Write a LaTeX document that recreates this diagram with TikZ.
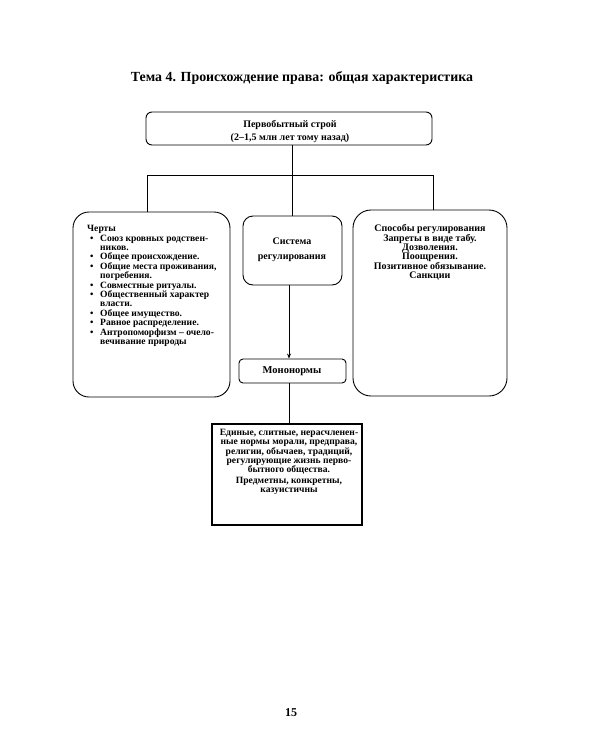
\documentclass[tikz,border=0pt]{standalone}
\usepackage{fontspec}
\setmainfont{Liberation Serif}
\usetikzlibrary{arrows.meta}
\begin{document}
\begin{tikzpicture}[x=1pt,y=-1pt,
  box/.style={draw=black,line width=0.9pt,inner sep=0pt},
  txt/.style={inner sep=0pt,font=\bfseries\fontsize{10}{9.4}\selectfont},
  conn/.style={draw=black,line width=0.9pt}]
\useasboundingbox[fill=white] (0,0) rectangle (600,750);
\node[inner sep=0pt,font=\bfseries\fontsize{13.9}{15}\selectfont] (title) at (302,78) {Тема 4. Происхождение права: общая характеристика};
% boxes
\node[box,rounded corners=6pt,minimum width=286pt,minimum height=33pt] (top) at (289,128.5) {};
\node[box,rounded corners=16pt,minimum width=157pt,minimum height=185pt] (left) at (151.5,304.5) {};
\node[box,rounded corners=10pt,minimum width=99pt,minimum height=69pt] (mid) at (292.5,250.5) {};
\node[box,rounded corners=18pt,minimum width=154pt,minimum height=186pt] (right) at (430,303) {};
\node[box,rounded corners=4pt,minimum width=107pt,minimum height=24pt] (mono) at (292.5,371) {};
\node[box,line width=1.6pt,minimum width=150pt,minimum height=101pt] (bot) at (287,474.5) {};
% texts
\node[txt,align=center,font=\bfseries\fontsize{10}{13}\selectfont] (toptxt) at (290,131.5) {Первобытный строй\\(2–1,5 млн лет тому назад)};
\node[txt,align=left,anchor=west,font=\bfseries\fontsize{9.6}{9.4}\selectfont] (lefttxt) at (87,286) {Черты\\
\makebox[13pt][l]{\hspace{3pt}•}Союз кровных родствен-\\
\hspace*{13pt}ников.\\
\makebox[13pt][l]{\hspace{3pt}•}Общее происхождение.\\
\makebox[13pt][l]{\hspace{3pt}•}Общие места проживания,\\
\hspace*{13pt}погребения.\\
\makebox[13pt][l]{\hspace{3pt}•}Совместные ритуалы.\\
\makebox[13pt][l]{\hspace{3pt}•}Общественный характер\\
\hspace*{13pt}власти.\\
\makebox[13pt][l]{\hspace{3pt}•}Общее имущество.\\
\makebox[13pt][l]{\hspace{3pt}•}Равное распределение.\\
\makebox[13pt][l]{\hspace{3pt}•}Антропоморфизм – очело-\\
\hspace*{13pt}вечивание природы};
\node[txt,align=center,font=\bfseries\fontsize{10}{15}\selectfont] (midtxt) at (292,249.5) {Система\\регулирования};
\node[txt,align=center] (righttxt) at (430,252.5) {Способы регулирования\\Запреты в виде табу.\\Дозволения.\\Поощрения.\\Позитивное обязывание.\\Санкции};
\node[txt,font=\bfseries\fontsize{10.5}{12}\selectfont] (monotxt) at (292,371) {Мононормы};
\node[txt,align=center,font=\bfseries\fontsize{9.6}{9.3}\selectfont] (bottxt) at (289,462) {Единые, слитные, нерасчленен-\\ные нормы морали, предправа,\\религии, обычаев, традиций,\\регулирующие жизнь перво-\\бытного общества.\\[1.5pt]Предметны, конкретны,\\казуистичны};
\node[inner sep=0pt,font=\bfseries\fontsize{12}{13}\selectfont] (page) at (291,713) {15};
% connectors
\coordinate (j) at (292,175);
\coordinate (jl) at (147,175);
\coordinate (jr) at (433,175);
\draw[conn] (j |- top.south) -- (j);
\draw[conn] (jl |- left.north) -- (jl) -- (jr) -- (jr |- right.north);
\draw[conn] (j) -- (j |- mid.north);
\coordinate (a) at (289,0);
\draw[conn,-{Stealth[length=5pt,width=4pt]}] (a |- mid.south) -- (a |- mono.north);
\draw[conn] (a |- mono.south) -- (a |- bot.north);
\end{tikzpicture}
\end{document}
